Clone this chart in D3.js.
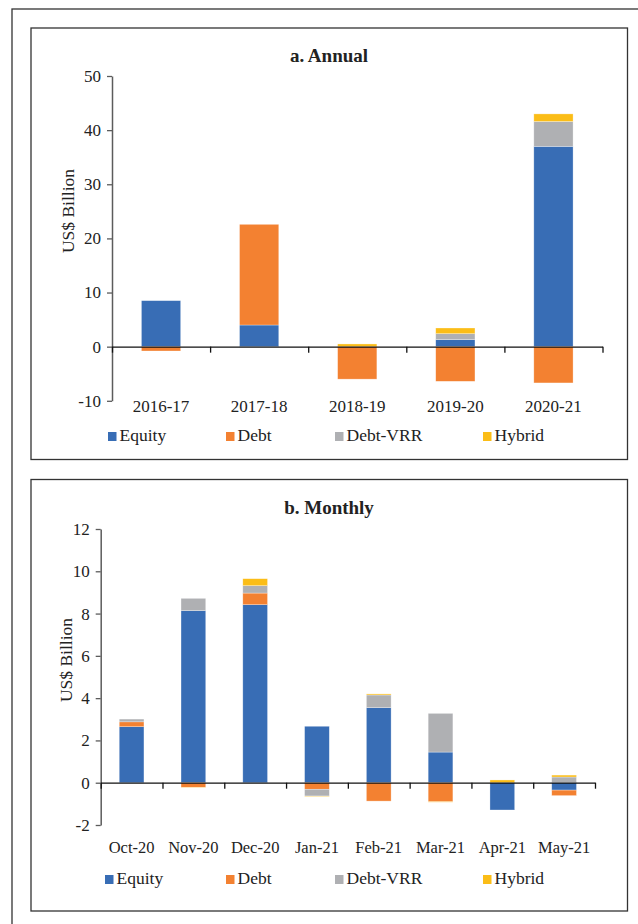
<!DOCTYPE html>
<html>
<head>
<meta charset="utf-8">
<script src="https://cdn.jsdelivr.net/npm/d3@7"></script>
<style>
  body { margin: 0; background: #fff; }
  text { font-family: "Liberation Serif", serif; fill: #222; }
</style>
</head>
<body>
<div id="vis"></div>
<script>
// annual data (US$ billion)
let years = ["2016-17", "2017-18", "2018-19", "2019-20", "2020-21"];
let equityA = [8.5, 4.0, 0, 1.3, 37.0];
let debtA = [-0.8, 18.6, -6.0, -6.4, -6.7];
let vrrA = [0, 0, 0, 1.1, 4.6];
let hybridA = [0, 0, 0.5, 1.05, 1.4];
let annualTicks = [-10, 0, 10, 20, 30, 40, 50];

// monthly data (US$ billion)
let months = ["Oct-20", "Nov-20", "Dec-20", "Jan-21", "Feb-21", "Mar-21", "Apr-21", "May-21"];
let equityM = [2.65, 8.14, 8.42, 2.67, 3.55, 1.45, -1.29, -0.35];
let debtM = [0.23, -0.22, 0.55, -0.31, -0.87, -0.9, 0, -0.26];
let vrrM = [0.13, 0.58, 0.35, -0.32, 0.6, 1.83, 0, 0.27];
let hybridM = [0, -0.02, 0.33, -0.02, 0.05, -0.02, 0.13, 0.09];
let monthlyTicks = [-2, 0, 2, 4, 6, 8, 10, 12];

let seriesNames = ["Equity", "Debt", "Debt-VRR", "Hybrid"];
let colors = ["#386db5", "#f38131", "#afb0b3", "#fbbd17"];

let width = 638, height = 924;

let svg = d3.select('#vis')
  .append('svg')
  .attr('width', width)
  .attr('height', height)
  .style('background-color', 'white');

// outer frame
svg.append('rect')
  .attr('x', 12).attr('y', 9)
  .attr('width', 640).attr('height', 930)
  .attr('fill', 'none').attr('stroke', '#333').attr('stroke-width', 1.3);

function drawPanel(cfg) {
  let g = svg.append('g');

  g.append('rect')
    .attr('x', 31).attr('y', cfg.top)
    .attr('width', 596.5).attr('height', 431.5)
    .attr('fill', 'none').attr('stroke', '#333').attr('stroke-width', 1.3);

  g.append('text')
    .attr('x', 329).attr('y', cfg.titleY)
    .attr('text-anchor', 'middle')
    .style('font-weight', 'bold')
    .style('font-size', '19px')
    .text(cfg.title);

  let rows = cfg.cats.map((c, i) => ({
    cat: c,
    "Equity": cfg.values[0][i],
    "Debt": cfg.values[1][i],
    "Debt-VRR": cfg.values[2][i],
    "Hybrid": cfg.values[3][i]
  }));

  let x = d3.scaleBand()
    .domain(cfg.cats)
    .range(cfg.xRange)
    .paddingInner(0.6)
    .paddingOuter(0.3);

  let y = d3.scaleLinear()
    .domain(cfg.yDomain)
    .range(cfg.yRange);

  // y axis (plain hyphen for negatives, like the original)
  let yAxis = g.append('g')
    .attr('transform', `translate(${cfg.xRange[0]},0)`)
    .call(d3.axisLeft(y).tickValues(cfg.ticks).tickSize(5).tickSizeOuter(0).tickPadding(6).tickFormat(d => String(d)));
  yAxis.select('.domain').attr('stroke', '#5c5c5c').attr('stroke-width', 1.5);
  yAxis.selectAll('.tick line').attr('stroke', '#5c5c5c').attr('stroke-width', 1.3);
  yAxis.selectAll('.tick text')
    .style('font-family', '"Liberation Serif", serif')
    .style('font-size', '17px')
    .attr('fill', '#222');

  g.append('text')
    .attr('transform', `translate(${cfg.yLabelX},${cfg.yLabelY}) rotate(-90)`)
    .attr('text-anchor', 'middle')
    .style('font-size', '17.5px')
    .text('US$ Billion');

  // stacked bars
  let stack = d3.stack().keys(seriesNames).offset(d3.stackOffsetDiverging);
  let layers = stack(rows);

  g.append('g')
    .selectAll('g')
    .data(layers)
    .join('g')
    .attr('fill', (d, i) => colors[i])
    .selectAll('rect')
    .data(d => d)
    .join('rect')
    .attr('x', d => x(d.data.cat))
    .attr('y', d => y(Math.max(d[0], d[1])))
    .attr('width', x.bandwidth())
    .attr('height', d => Math.abs(y(d[0]) - y(d[1])))
    .attr('stroke', 'rgba(255,255,255,0.5)')
    .attr('stroke-width', 0.6);

  // category axis along zero with ticks at band boundaries
  let edge = d3.scaleLinear().domain([0, cfg.cats.length]).range(cfg.xRange);
  let xAxis = g.append('g')
    .attr('transform', `translate(0,${y(0)})`)
    .call(d3.axisBottom(edge).tickValues(d3.range(cfg.cats.length + 1)).tickSize(6).tickSizeOuter(0).tickFormat(''));
  xAxis.select('.domain').attr('stroke', '#111').attr('stroke-width', 1.3);
  xAxis.selectAll('.tick line').attr('stroke', '#111').attr('stroke-width', 1.3);

  // category labels at the bottom
  g.append('g')
    .selectAll('text')
    .data(cfg.cats)
    .join('text')
    .attr('x', d => x(d) + x.bandwidth() / 2)
    .attr('y', cfg.labelY)
    .attr('text-anchor', 'middle')
    .style('font-size', cfg.labelSize)
    .text(d => d);

  // legend
  let leg = g.append('g')
    .selectAll('g')
    .data(seriesNames)
    .join('g')
    .attr('transform', (d, i) => `translate(${cfg.legendX[i]},${cfg.legendY})`);
  leg.append('rect')
    .attr('x', 0).attr('y', -9)
    .attr('width', 8.5).attr('height', 9)
    .attr('fill', (d, i) => colors[i]);
  leg.append('text')
    .attr('x', 11.5).attr('y', 0)
    .style('font-size', '17.5px')
    .text(d => d);
}

drawPanel({
  top: 28,
  title: 'a. Annual',
  titleY: 62,
  cats: years,
  values: [equityA, debtA, vrrA, hybridA],
  xRange: [112, 602.5],
  yDomain: [-10, 50],
  yRange: [400.8, 76],
  ticks: annualTicks,
  yLabelX: 74,
  yLabelY: 211,
  labelY: 412,
  labelSize: '17px',
  legendX: [108, 226, 335, 483],
  legendY: 441
});

drawPanel({
  top: 479.5,
  title: 'b. Monthly',
  titleY: 514,
  cats: months,
  values: [equityM, debtM, vrrM, hybridM],
  xRange: [100.7, 595],
  yDomain: [-2, 12],
  yRange: [825, 529],
  ticks: monthlyTicks,
  yLabelX: 72,
  yLabelY: 660,
  labelY: 853,
  labelSize: '16.5px',
  legendX: [105, 226, 335, 483],
  legendY: 884
});
</script>
</body>
</html>
